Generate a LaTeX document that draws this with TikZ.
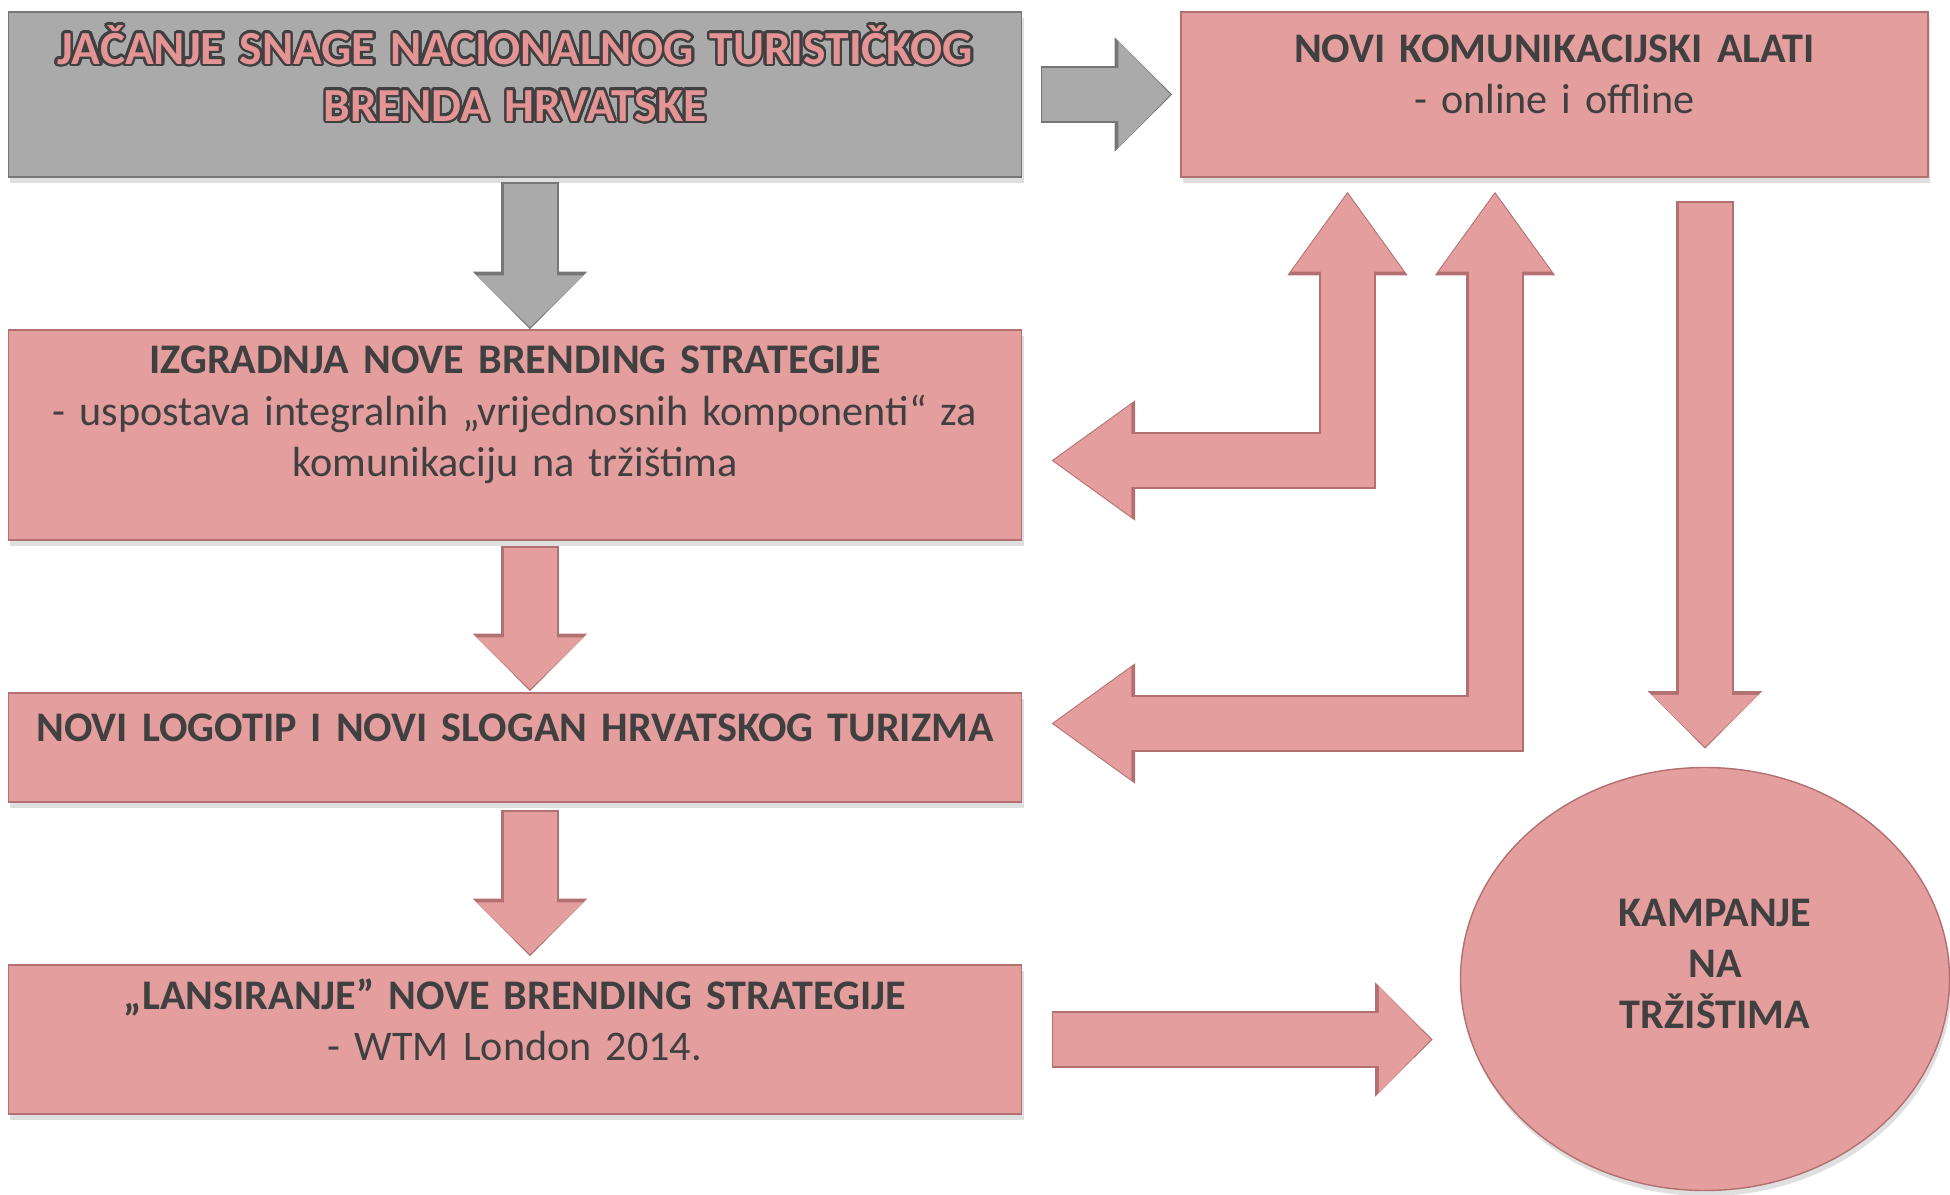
\documentclass[tikz,border=0pt]{standalone}
\usepackage{fontspec}
\setmainfont{Carlito}
\usepackage[copies]{contour}
\usetikzlibrary{arrows.meta,positioning,calc,shadows,shapes.geometric}
\definecolor{roseFill}{RGB}{229,158,158}
\definecolor{roseEdge}{RGB}{178,112,112}
\definecolor{greyFill}{RGB}{170,170,170}
\definecolor{greyEdge}{RGB}{118,118,118}
\definecolor{inkGrey}{RGB}{64,64,64}
\definecolor{titleRose}{RGB}{228,148,148}
\contourlength{0.7pt}
\contournumber{24}
\tikzset{
    every node/.append style={align=center},
    box/.style={rectangle,draw=roseEdge,fill=roseFill,thin,minimum width=10.1cm,
        text width=9.9cm,text=inkGrey,font=\fontsize{12}{14.6}\selectfont,
        drop shadow={opacity=0.25,shadow xshift=0.6pt,shadow yshift=-1.6pt},
        execute at end node={\par\vspace{4mm}}},
    greybox/.style={box,draw=greyEdge,fill=greyFill},
    oval/.style={ellipse,draw=roseEdge,fill=roseFill,thin,inner sep=0pt,
        minimum width=4.89cm,minimum height=4.23cm,text width=3.4cm,text=inkGrey,
        font=\bfseries\fontsize{12}{14.6}\selectfont,
        drop shadow={opacity=0.25,shadow xshift=0.6pt,shadow yshift=-1.6pt},
        execute at end node={\par\vspace{3mm}}},
    flow/.style 2 args={line width=5.3mm,draw=#1,
        >={Triangle[length=5.2mm,width=10.6mm,line width=0.8pt]},
        preaction={draw=#2,line width=5.75mm,shorten <=-0.5pt,shorten >=-0.5pt,
            >={Triangle[length=5.75mm,width=11.45mm,line width=0pt]}}},
    bent/.style 2 args={line width=5.3mm,draw=#1,
        >={Triangle[length=7.8mm,width=11.2mm,line width=0.8pt]},
        preaction={draw=#2,line width=5.75mm,shorten <=-0.5pt,shorten >=-0.5pt,
            >={Triangle[length=8.35mm,width=12.05mm,line width=0pt]}}}
}

\begin{document}
\begin{tikzpicture}
    \useasboundingbox (0,0) rectangle (19.5,-11.94);

    \node[greybox,minimum height=1.65cm,text=titleRose,
        font=\bfseries\fontsize{13.5}{16.2}\selectfont] (brand) at (5.15,-0.945)
        {\contour{inkGrey}{JAČANJE SNAGE NACIONALNOG TURISTIČKOG}\\\contour{inkGrey}{BRENDA HRVATSKE}};
    \node[box,minimum width=7.47cm,text width=7.2cm,minimum height=1.65cm] (tools) at (15.545,-0.945)
        {\textbf{NOVI KOMUNIKACIJSKI ALATI}\\- online i offline};
    \node[box,minimum height=2.10cm] (strategy) at (5.15,-4.35)
        {\textbf{IZGRADNJA NOVE BRENDING STRATEGIJE}\\- uspostava integralnih „vrijednosnih komponenti“ za\\komunikaciju na tržištima};
    \node[box,minimum height=1.09cm] (logo) at (5.15,-7.475)
        {\textbf{NOVI LOGOTIP I NOVI SLOGAN HRVATSKOG TURIZMA}};
    \node[box,minimum height=1.49cm] (launch) at (5.15,-10.395)
        {\textbf{„LANSIRANJE” NOVE BRENDING STRATEGIJE}\\- WTM London 2014.};
    \node[oval] (campaign) at (17.05,-9.79) {\hspace*{2mm}KAMPANJE\\\hspace*{2mm}NA\\\hspace*{2mm}TRŽIŠTIMA};

    % straight block arrows
    \draw[flow={greyFill}{greyEdge},->] ([xshift=2mm]brand.east) -- ([xshift=-1mm]tools.west);
    \draw[flow={greyFill}{greyEdge},->] ([shift={(0.15,-0.06)}]brand.south) -- ([shift={(0.15,0.02)}]strategy.north);
    \draw[flow={roseFill}{roseEdge},->] ([shift={(0.15,-0.07)}]strategy.south) -- ([shift={(0.15,0.03)}]logo.north);
    \draw[flow={roseFill}{roseEdge},->] ([shift={(0.15,-0.09)}]logo.south) -- ([shift={(0.15,0.1)}]launch.north);
    \draw[flow={roseFill}{roseEdge},->] ([xshift=3.1mm]launch.east) -- ($(campaign.west |- launch.east)+(-0.29,0)$);
    \draw[flow={roseFill}{roseEdge},->] ($(tools.south -| campaign.north)+(0,-0.25)$) -- ([yshift=2mm]campaign.north);

    % bent two-way arrows
    \draw[bent={roseFill}{roseEdge},<->] ($(strategy.east)+(0.31,-0.255)$) -| ($(tools.south)+(-2.07,-0.16)$);
    \draw[bent={roseFill}{roseEdge},<->] ($(logo.east)+(0.31,0.24)$) -| ($(tools.south)+(-0.595,-0.16)$);
\end{tikzpicture}
\end{document}
